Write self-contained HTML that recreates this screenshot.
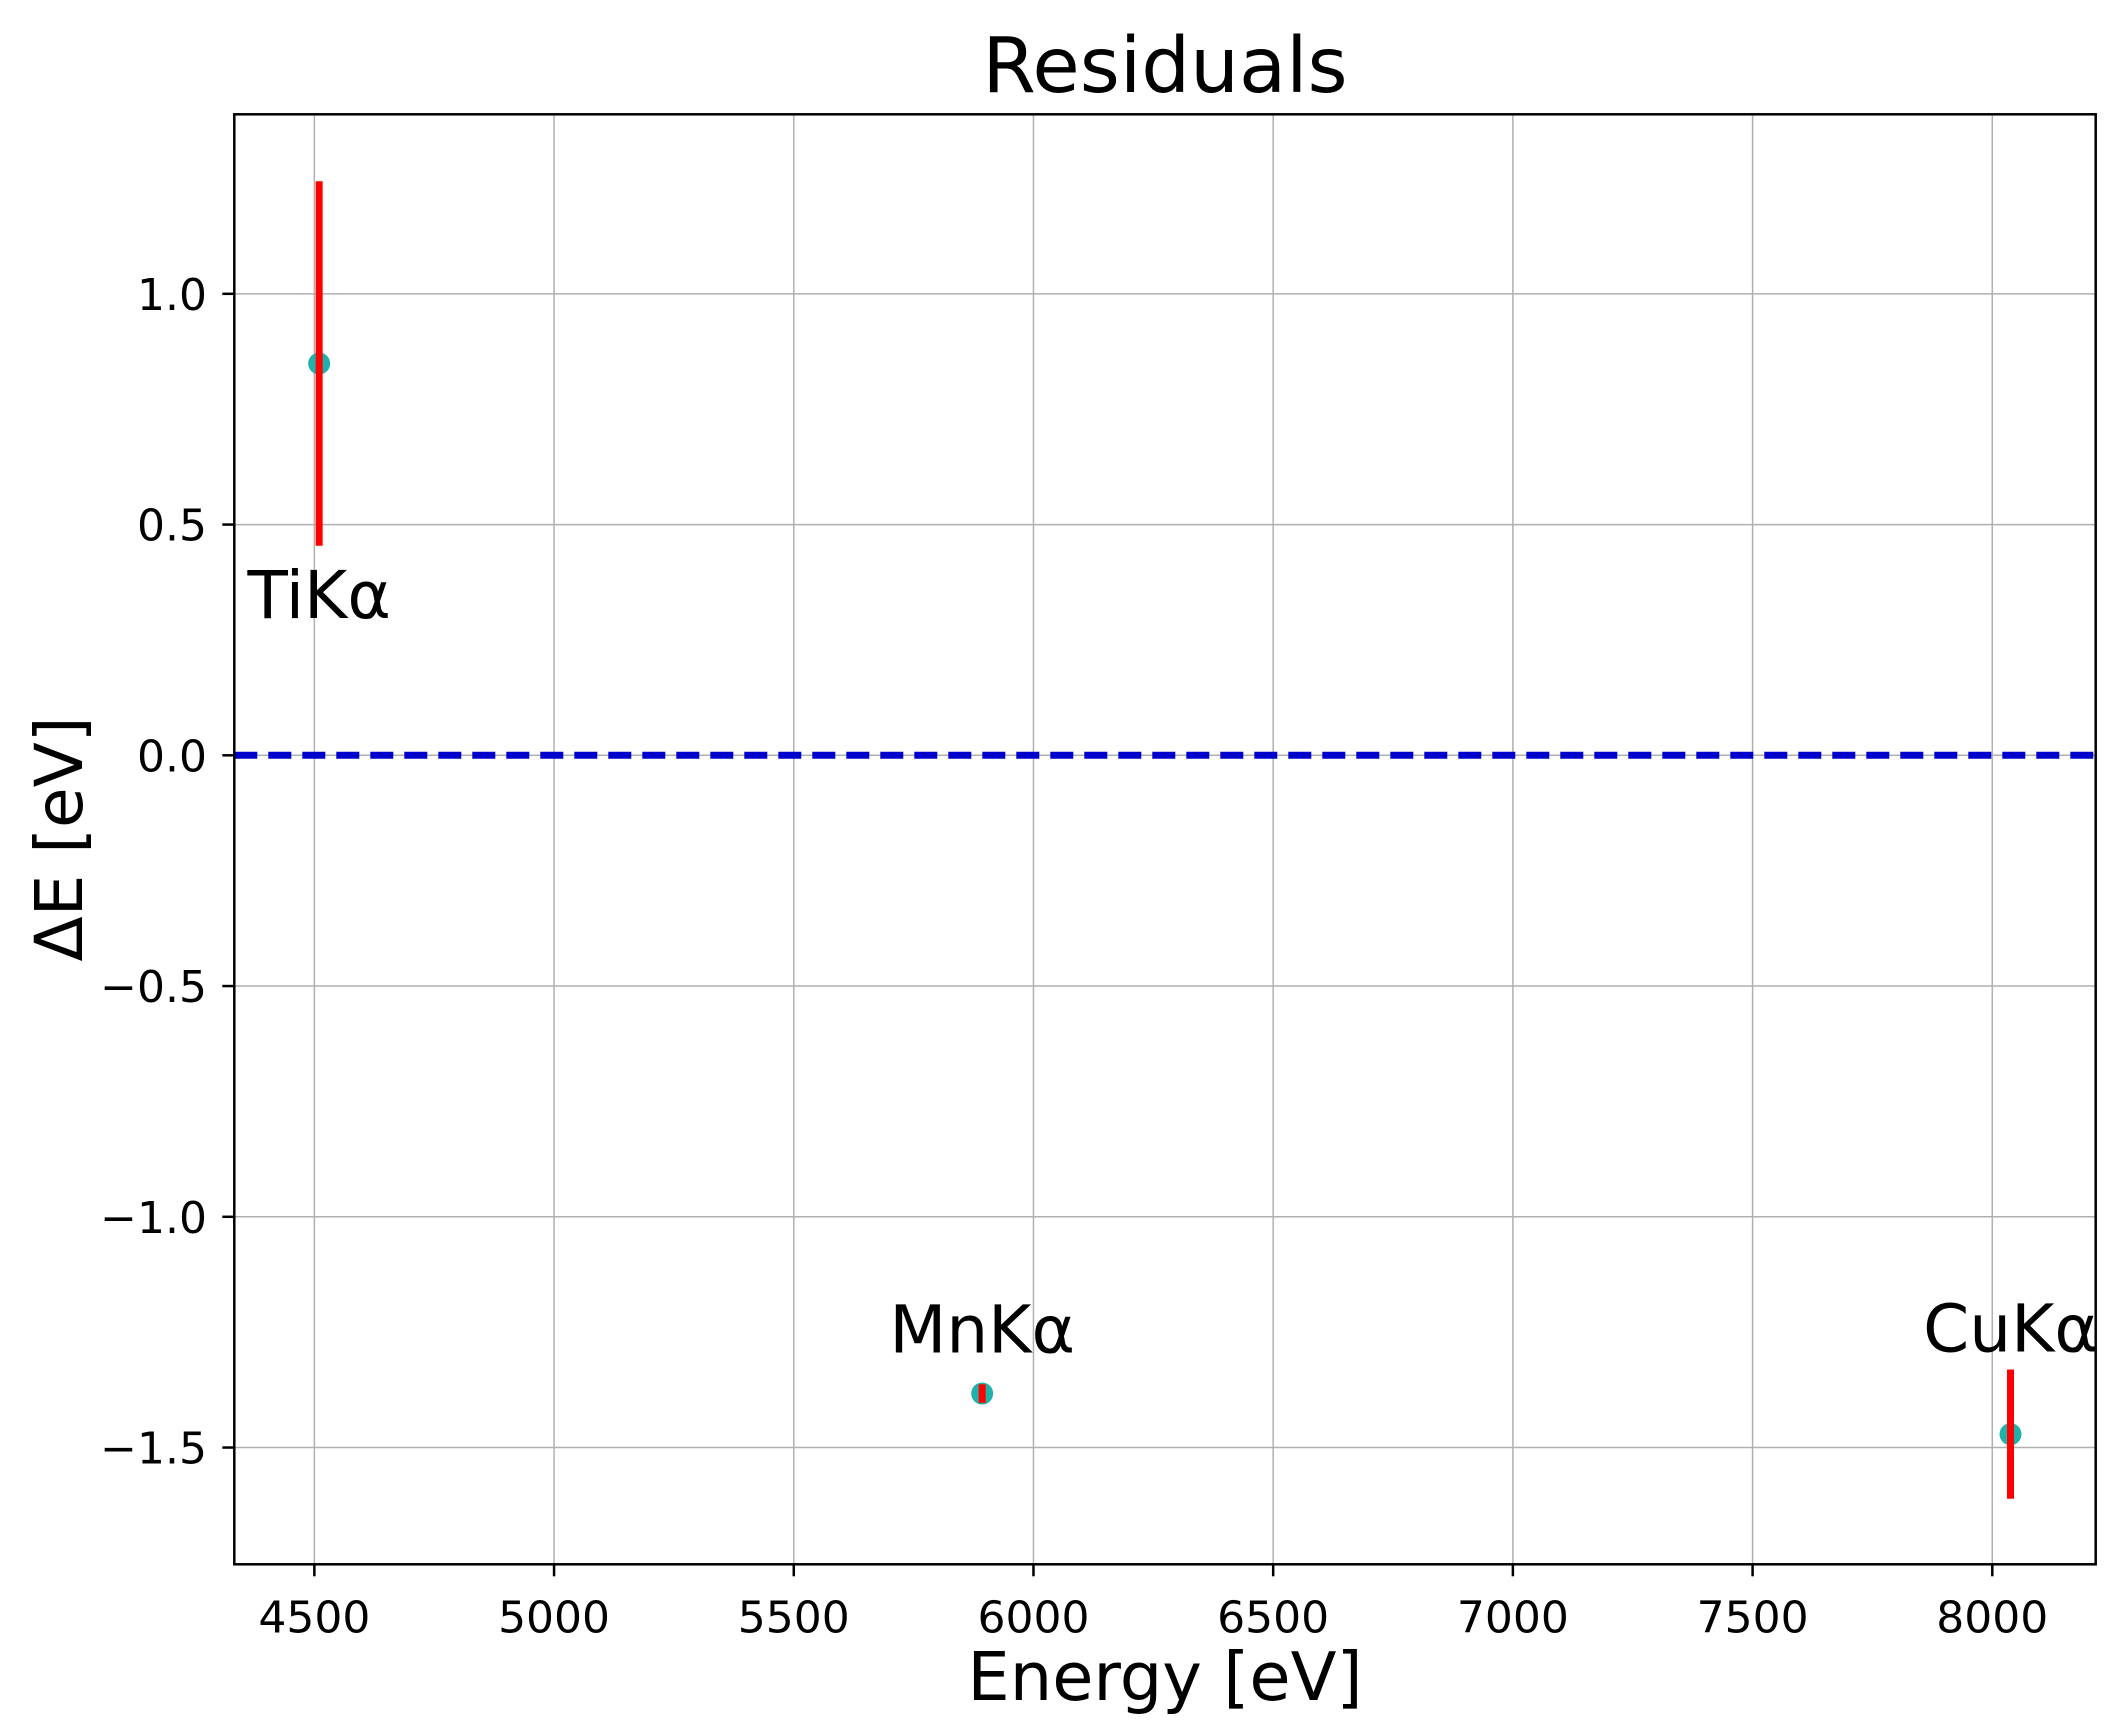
<!DOCTYPE html>
<html><head><meta charset="utf-8"><style>
html,body{margin:0;padding:0;background:#fff;}
svg{display:block;font-family:"DejaVu Sans","Liberation Sans",sans-serif;}
</style></head><body>
<svg id="chart" width="2123" height="1727" viewBox="0 0 2123 1727" xmlns="http://www.w3.org/2000/svg">
<g id="grid"></g>
<g id="zero"></g>
<g id="marks"></g>
<g id="axes"></g>
<text x="1165" y="92" font-size="77" text-anchor="middle">Residuals</text>
<text x="1165" y="1700" font-size="67" text-anchor="middle">Energy [eV]</text>
<text transform="translate(82,839) rotate(-90)" font-size="66" text-anchor="middle">ΔE [eV]</text>
</svg>
<script>
const labels = ["TiKα","MnKα","CuKα"];
const energies = [4510, 5893, 8038];
const residuals = [0.849, -1.383, -1.471];
const errors = [0.395, 0.02, 0.14];
const labelBelow = [true, false, false];
const xTicks = [4500,5000,5500,6000,6500,7000,7500,8000];
const yTicks = [1.0,0.5,0.0,-0.5,-1.0,-1.5];
const yTickLabels = ["1.0","0.5","0.0","\u22120.5","\u22121.0","\u22121.5"];

const L=234.3,R=2095.7,T=114.3,B=1564.3;
const xMin=4333,xMax=8215.7,yMin=-1.753,yMax=1.389;
function X(v){return L+(v-xMin)/(xMax-xMin)*(R-L);}
function Y(v){return B-(v-yMin)/(yMax-yMin)*(B-T);}
const NS="http://www.w3.org/2000/svg";
function mk(parent,tag,attrs){const e=document.createElementNS(NS,tag);for(const k in attrs)e.setAttribute(k,attrs[k]);parent.appendChild(e);return e;}
const grid=document.getElementById('grid'),axes=document.getElementById('axes'),marks=document.getElementById('marks'),zero=document.getElementById('zero');

xTicks.forEach((t)=>{
  const g=mk(grid,'line',{x1:X(t),x2:X(t),y1:T,y2:B,stroke:'#b0b0b0','stroke-width':1.5});
  
  
  const tk=mk(axes,'line',{x1:X(t),x2:X(t),y1:B,y2:B+12,stroke:'#000','stroke-width':2.5});
  
  
  const tx=mk(axes,'text',{x:X(t),y:B+68,'font-size':44,'text-anchor':'middle'});
  tx.textContent=String(t);
  
  
});
yTicks.forEach((t,i)=>{
  const g=mk(grid,'line',{x1:L,x2:R,y1:Y(t),y2:Y(t),stroke:'#b0b0b0','stroke-width':1.5});
  
  
  const tk=mk(axes,'line',{x1:L-12,x2:L,y1:Y(t),y2:Y(t),stroke:'#000','stroke-width':2.5});
  
  
  const tx=mk(axes,'text',{x:207,y:Y(t)+16,'font-size':44,'text-anchor':'end'});
  tx.textContent=yTickLabels[i];
  
  
});
const zl=mk(zero,'line',{x1:L,x2:R,y1:Y(0),y2:Y(0),stroke:'#0000cd','stroke-width':7,'stroke-dasharray':'23 11'});


const frame=mk(axes,'rect',{x:L,y:T,width:R-L,height:B-T,fill:'none',stroke:'#000','stroke-width':2.5});



energies.forEach((e,i)=>{
  const c=mk(marks,'circle',{cx:X(e),cy:Y(residuals[i]),r:11,fill:'#20b2aa'});
  
  
  const eb=mk(marks,'line',{x1:X(e),x2:X(e),y1:Y(residuals[i]+errors[i]),y2:Y(residuals[i]-errors[i]),stroke:'#ff0000','stroke-width':7});
  
  
  const ly=labelBelow[i]?Y(residuals[i]-errors[i])+72:Math.min(Y(residuals[i])-41,Y(residuals[i]+errors[i])-18);
  const t=mk(marks,'text',{x:X(e),y:ly,'font-size':66,'text-anchor':'middle'});
  t.textContent=labels[i];
  
  
});
</script>
</body></html>
